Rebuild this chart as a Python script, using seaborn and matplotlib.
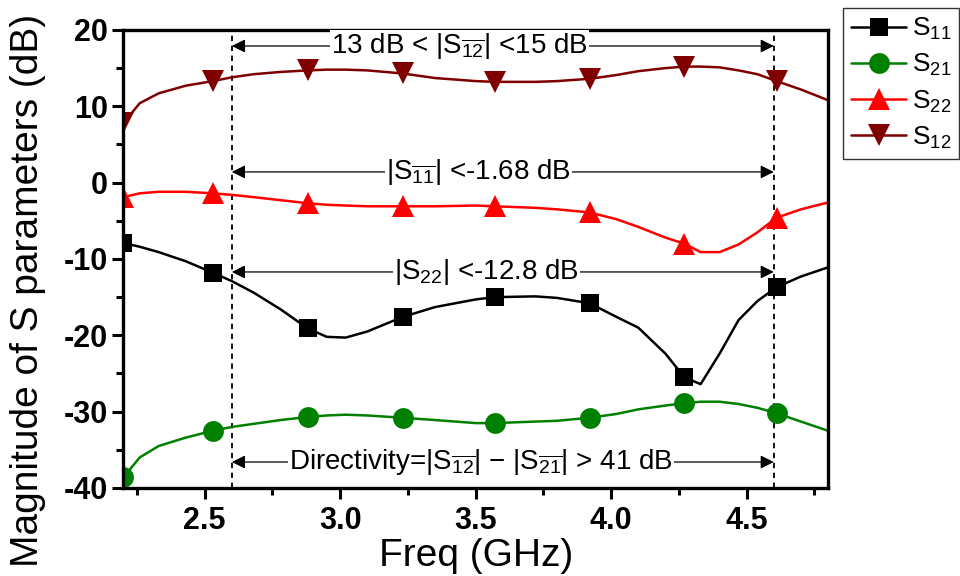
import matplotlib
matplotlib.use("Agg")
import matplotlib.pyplot as plt
import seaborn as sns
from matplotlib.ticker import MultipleLocator

# ---------------- data ----------------
freq = [2.20, 2.26, 2.33, 2.43, 2.53, 2.60, 2.68, 2.78, 2.88, 2.95, 3.02, 3.10,
        3.23, 3.35, 3.50, 3.57, 3.72, 3.80, 3.92, 4.02, 4.10, 4.20, 4.27, 4.33,
        4.40, 4.47, 4.54, 4.61, 4.70, 4.80]
s11 = [-7.9, -8.4, -9.1, -10.3, -11.8, -12.9, -14.4, -16.6, -19.1, -20.2, -20.3, -19.5,
       -17.6, -16.3, -15.3, -15.0, -14.9, -15.1, -15.8, -17.6, -19.0, -22.4, -25.5, -26.4,
       -22.4, -18.0, -15.5, -13.7, -12.3, -11.1]
s21 = [-38.6, -36.0, -34.5, -33.4, -32.5, -32.0, -31.6, -31.1, -30.7, -30.5, -30.4, -30.5,
       -30.8, -31.1, -31.5, -31.5, -31.3, -31.2, -30.8, -30.3, -29.7, -29.2, -28.9, -28.7,
       -28.7, -29.0, -29.5, -30.2, -31.3, -32.5]
s22 = [-1.9, -1.4, -1.2, -1.2, -1.4, -1.6, -1.9, -2.3, -2.7, -2.9, -3.0, -3.1,
       -3.1, -3.1, -3.0, -3.1, -3.3, -3.5, -3.9, -4.8, -5.8, -7.2, -8.0, -9.1,
       -9.1, -8.1, -6.5, -4.6, -3.5, -2.6]
s12 = [7.8, 10.4, 11.7, 12.7, 13.3, 13.8, 14.2, 14.5, 14.7, 14.8, 14.8, 14.7,
       14.3, 13.7, 13.3, 13.2, 13.2, 13.3, 13.6, 14.1, 14.6, 15.0, 15.2, 15.2,
       15.1, 14.7, 14.2, 13.3, 12.2, 10.8]
marker_freq = [2.20, 2.53, 2.88, 3.23, 3.57, 3.92, 4.27, 4.61]

band = [2.6, 4.6]
ann_y = [17.9, 1.4, -11.7, -36.6]
ann_xc = [3.44, 3.51, 3.54, 3.52]
ann_text = [r"13 dB < |S$_{\overline{\mathregular{12}}}$| <15 dB",
            r"|S$_{\overline{\mathregular{11}}}$| <-1.68 dB",
            r"|S$_{\mathregular{22}}$| <-12.8 dB",
            r"Directivity=|S$_{\overline{\mathregular{12}}}$| − |S$_{\overline{\mathregular{21}}}$| > 41 dB"]

series = [
    (r"S$_{\mathregular{11}}$", s11, "black", "s", 13.5),
    (r"S$_{\mathregular{21}}$", s21, "#008000", "o", 15),
    (r"S$_{\mathregular{22}}$", s22, "#ff0000", "^", 16),
    (r"S$_{\mathregular{12}}$", s12, "#800000", "v", 16),
]

# ---------------- style ----------------
sns.set_style("ticks")
plt.rcParams["font.family"] = ["Liberation Sans", "DejaVu Sans"]
plt.rcParams["mathtext.fontset"] = "custom"
plt.rcParams["mathtext.rm"] = "Liberation Sans"
plt.rcParams["mathtext.it"] = "Liberation Sans:italic"
plt.rcParams["mathtext.bf"] = "Liberation Sans:bold"
plt.rcParams["axes.unicode_minus"] = False
for k in ["text.color", "axes.labelcolor", "xtick.color", "ytick.color", "axes.edgecolor"]:
    plt.rcParams[k] = "black"

fig = plt.figure(figsize=(9.6, 5.76), dpi=100)
ax = fig.add_axes([0.1286, 0.1528, 0.7339, 0.7952])

idx = [freq.index(m) for m in marker_freq]
handles = []
for name, vals, col, mk, ms in series:
    sns.lineplot(x=freq, y=vals, ax=ax, color=col, lw=1.8, marker=mk,
                 markersize=ms, markevery=idx, markeredgecolor=col,
                 markeredgewidth=0, legend=False, sort=False)
    ln = ax.get_lines()[-1]
    ln.set_label(name)
    handles.append(ln)

for b in band:
    ax.axvline(b, color="black", lw=1.3, ls=(0, (3, 2.5)), zorder=1)

for y, xc, t in zip(ann_y, ann_xc, ann_text):
    ax.annotate("", xy=(band[0], y), xytext=(band[1], y),
                arrowprops=dict(arrowstyle="<|-|>", color="black", lw=0.9,
                                shrinkA=0, shrinkB=0, mutation_scale=20))
    ax.text(xc, y, t, ha="center", va="center", fontsize=20, color="black",
            bbox=dict(fc="white", ec="none", pad=0.5), zorder=5)

ax.set_xlim(2.2, 4.8)
ax.set_ylim(-40, 20)
ax.xaxis.set_major_locator(MultipleLocator(0.5))
ax.xaxis.set_minor_locator(MultipleLocator(0.25))
ax.yaxis.set_major_locator(MultipleLocator(10))
ax.yaxis.set_minor_locator(MultipleLocator(5))
ax.set_xticks([2.5, 3.0, 3.5, 4.0, 4.5])
ax.set_xticklabels(["2.5", "3.0", "3.5", "4.0", "4.5"])
ax.tick_params(axis="both", which="major", direction="out", length=8, width=2.2,
               labelsize=22, pad=3, colors="black")
ax.tick_params(axis="x", which="major", pad=5)
ax.tick_params(axis="both", which="minor", direction="out", length=5, width=2.2,
               colors="black")
ax.tick_params(top=False, right=False, which="both")
for lab in ax.get_xticklabels() + ax.get_yticklabels():
    lab.set_fontweight("bold")
for sp in ax.spines.values():
    sp.set_linewidth(2.4)
    sp.set_color("black")
    sp.set_visible(True)

ax.set_xlabel("Freq (GHz)", fontsize=28, color="black")
ax.set_ylabel("Magnitude of S parameters (dB)", fontsize=28, color="black")
ax.xaxis.label.set_va("center")
ax.yaxis.label.set_va("center")
ax.xaxis.set_label_coords(0.5, -0.148)
ax.yaxis.set_label_coords(-0.136, 0.432)

leg = fig.legend(handles=handles, loc="upper left",
                 bbox_to_anchor=(843 / 960, 1 - 8 / 576), fontsize=19,
                 frameon=True, fancybox=False, edgecolor="black",
                 handlelength=2.1, handletextpad=0.2, labelspacing=0.38,
                 borderpad=0.3, borderaxespad=0)
leg.get_frame().set_linewidth(1.0)
for t in leg.get_texts():
    t.set_color("black")

fig.savefig("out.png", dpi=100)
